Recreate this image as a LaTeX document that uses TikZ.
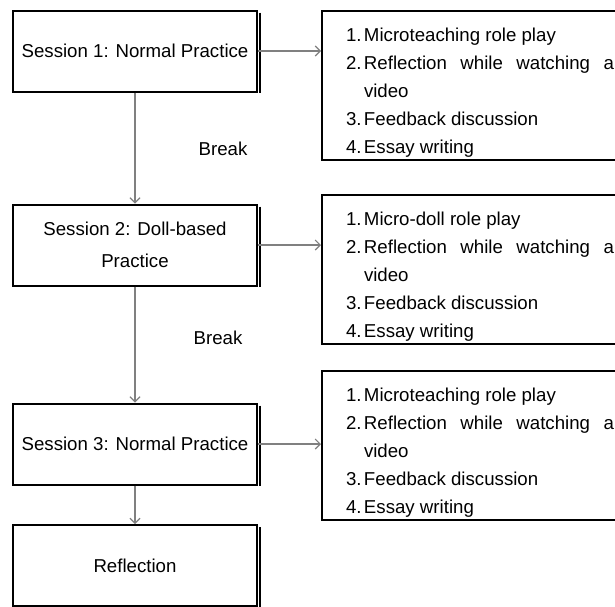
\documentclass[tikz,border=0pt]{standalone}
\usepackage{fontspec}
\setmainfont{Liberation Sans}
\usetikzlibrary{arrows.meta}
\newcommand\fsz{\fontsize{9.33}{14}\selectfont}
\newcommand\lsetup{\tolerance=10000 \hyphenpenalty=10000 \rightskip=0pt \relax}
\newcommand\litem[2]{\par\hangindent=9pt\hangafter=1\noindent\makebox[9pt][l]{#1}#2}
\begin{document}
\begin{tikzpicture}[x=0.5pt,y=-0.5pt,
  sess/.style={draw, line width=1pt, minimum width=122pt, minimum height=40.5pt,
    inner sep=0pt, align=center, font=\fsz},
  listbox/.style={draw, line width=1pt, text width=134pt, inner xsep=12pt, align=justify,
    inner ysep=0pt, minimum height=74.5pt, anchor=west, font=\fsz},
  conn/.style={draw=gray, line width=0.55pt, -{Straight Barb[length=2.5pt,width=5pt]}},
  lbl/.style={font=\fsz, inner sep=0pt},
  shadowline/.style={line width=0.7pt}]
\clip (0,0) rectangle (615,606);
\fill[white] (0,0) rectangle (615,606);

\node[sess] (s1) at (135,51) {Session 1: Normal Practice};
\node[sess] (s2) at (135,245) {Session 2: Doll-based\\[2pt]Practice};
\node[sess] (s3) at (135,444) {Session 3: Normal Practice};
\node[sess] (r) at (135,565.5) {Reflection};

\foreach \n in {s1,s2,s3,r}
  \draw[shadowline] ([xshift=0.9pt,yshift=-1.5pt]\n.north east) -- ([xshift=0.9pt]\n.south east);

\node[listbox] (l1) at (321,85.5) {\lsetup
  \litem{1.}{Microteaching role play}
  \litem{2.}{Reflection while watching a video}
  \litem{3.}{Feedback discussion}
  \litem{4.}{Essay writing}};
\node[listbox] (l2) at (321,269.5) {\lsetup
  \litem{1.}{Micro-doll role play}
  \litem{2.}{Reflection while watching a video}
  \litem{3.}{Feedback discussion}
  \litem{4.}{Essay writing}};
\node[listbox] (l3) at (321,445.5) {\lsetup
  \litem{1.}{Microteaching role play}
  \litem{2.}{Reflection while watching a video}
  \litem{3.}{Feedback discussion}
  \litem{4.}{Essay writing}};

\node[lbl] (b1) at (223,149) {Break};
\node[lbl] (b2) at (218,338) {Break};

\draw[conn] (s1.east) -- (l1.west |- s1.east);
\draw[conn] (s2.east) -- (l2.west |- s2.east);
\draw[conn] (s3.east) -- (l3.west |- s3.east);
\draw[conn] (s1) -- (s2);
\draw[conn] (s2) -- (s3);
\draw[conn] (s3) -- (r);
\end{tikzpicture}
\end{document}
